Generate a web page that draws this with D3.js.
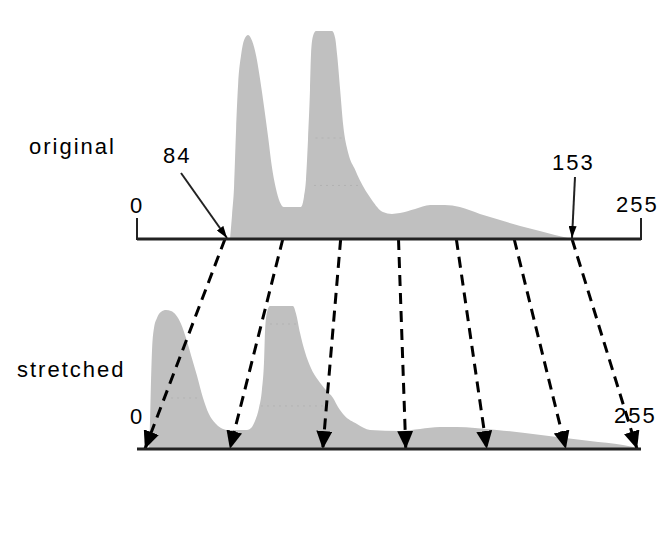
<!DOCTYPE html>
<html><head><meta charset="utf-8">
<script src="https://cdn.jsdelivr.net/npm/d3@7"></script>
<style>
html,body{margin:0;padding:0;background:#fff;}
svg{display:block;}
text{font-family:"Liberation Sans",Arial,sans-serif;font-size:22px;letter-spacing:2px;fill:#000;}
</style></head><body>
<svg id="chart" width="669" height="539"></svg>
<script>
// ---- data (intensity value, relative count) ----
const origValues = [85.0,85.4,85.8,86.2,86.6,87.2,87.8,88.6,89.4,90.2,91.0,91.8,92.6,93.3,94.1,94.9,95.7,99.1,99.7,100.1,100.5,100.9,101.1,101.5,102.1,105.3,105.9,106.3,106.9,107.5,108.5,109.9,110.8,113.2,115.4,117.2,118.8,121.8,124.8,127.7,130.7,134.7,138.7,142.7,146.6,149.6,152.2,153];
const origCounts = [0,11.5,24.9,52.2,73.7,88.0,95.2,97.6,94.7,87.6,76.1,62.7,48.3,34.9,24.4,17.7,15.3,15.3,20.1,28.2,47.4,71.3,88.0,97.1,99.5,99.5,96.2,88.0,71.3,54.5,41.1,33.0,28.2,18.7,12.9,12.0,12.4,14.4,16.3,16.3,15.3,12.0,9.1,6.2,3.8,1.9,0.5,0];
const stretchValues = [6.1,6.6,7.1,7.6,8.6,10.1,12.1,14.7,17.2,19.7,22.3,24.8,27.3,30.4,33.4,36.4,39.5,42.5,45.5,55.7,57.7,59.7,61.7,63.2,64.3,64.8,65.8,67.3,78.9,80.5,82.5,85.0,88.0,91.6,95.6,99.2,101.7,104.7,111.3,117.9,133.1,143.2,153.3,161.9,171.0,182.1,196.3,212.5,229.2,245.9,255];
const stretchCounts = [0,13.9,33.0,47.4,57.9,62.7,65.6,66.5,66.0,64.1,59.8,53.1,45.0,34.9,24.4,16.7,12.4,10.0,9.1,9.1,10.0,13.4,19.6,28.2,42.6,56.9,65.6,68.4,68.4,64.6,55.5,46.4,38.8,33.0,28.2,24.4,20.1,16.3,12.0,9.1,8.6,9.6,10.5,10.5,10.0,9.1,7.7,5.7,3.8,1.9,0];
const mapFrom = [84, 95.5, 107, 118.5, 130, 141.5, 153];
const mapTo   = [4, 47, 94, 136, 177, 217, 253];
const endTicks = [0, 255];
const markerValues = [84, 153];
const panelLabels = ["original", "stretched"];
const origGrid = [{count:48.3, from:102, to:108}, {count:25.6, from:101.7, to:111}];
const stretchGrid = [{count:59.8, from:67.3, to:80.4}, {count:24.4, from:14.2, to:31.9}, {count:20.6, from:59.7, to:94}];

// ---- scales ----
const xOrig = d3.scaleLinear().domain([0, 84, 153, 255]).range([137, 225, 572, 641]);
const xStr  = d3.scaleLinear().domain([0, 255]).range([137, 641]);
const yOrig = d3.scaleLinear().domain([0, 100]).range([239, 30]);
const yStr  = d3.scaleLinear().domain([0, 100]).range([449, 240]);

const svg = d3.select("#chart");
const defs = svg.append("defs");
defs.append("marker").attr("id","bigHead").attr("viewBox","0 -8 18 16")
  .attr("refX",18).attr("refY",0).attr("markerWidth",18).attr("markerHeight",16)
  .attr("markerUnits","userSpaceOnUse").attr("orient","auto")
  .append("path").attr("d","M0,-8L18,0L0,8Z").attr("fill","#000");
defs.append("marker").attr("id","smallHead").attr("viewBox","0 -4 12 8")
  .attr("refX",12).attr("refY",0).attr("markerWidth",12).attr("markerHeight",8)
  .attr("markerUnits","userSpaceOnUse").attr("orient","auto")
  .append("path").attr("d","M0,-4L12,0L0,4Z").attr("fill","#000");

const fillCol = "#c0c0c0";
function drawHist(vals, counts, x, y, grid, id){
  const pts = vals.map((v,i)=>[v, counts[i]]);
  const area = d3.area().x(d=>x(d[0])).y0(y(0)).y1(d=>y(d[1])).curve(d3.curveMonotoneX);
  defs.append("clipPath").attr("id",id).append("path").attr("d", area(pts));
  svg.append("path").attr("d", area(pts)).attr("fill", fillCol);
  svg.append("g").attr("clip-path",`url(#${id})`).selectAll("line").data(grid).join("line")
    .attr("x1", d=>x(d.from)).attr("x2", d=>x(d.to))
    .attr("y1", d=>y(d.count)).attr("y2", d=>y(d.count))
    .attr("stroke","#b2b2b2").attr("stroke-width",1).attr("stroke-dasharray","2,4");
}
drawHist(origValues, origCounts, xOrig, yOrig, origGrid, "clipO");
drawHist(stretchValues, stretchCounts, xStr, yStr, stretchGrid, "clipS");

// dashed mapping arrows
svg.selectAll("line.map").data(mapFrom).join("line").attr("class","map")
  .attr("x1", d=>xOrig(d)).attr("y1", yOrig(0))
  .attr("x2", (d,i)=>xStr(mapTo[i])).attr("y2", yStr(0))
  .attr("stroke","#000").attr("stroke-width",3).attr("stroke-dasharray","11,7")
  .attr("marker-end","url(#bigHead)");

// axes
svg.append("line").attr("x1", xOrig(0)).attr("x2", xOrig(255)).attr("y1", yOrig(0)).attr("y2", yOrig(0))
  .attr("stroke","#222").attr("stroke-width",3);
svg.selectAll("line.endtick").data(endTicks).join("line").attr("class","endtick")
  .attr("x1", d=>xOrig(d)).attr("x2", d=>xOrig(d)).attr("y1", yOrig(0)+1).attr("y2", yOrig(0)-21)
  .attr("stroke","#222").attr("stroke-width",2);
svg.append("line").attr("x1", xStr(0)).attr("x2", xStr(255)).attr("y1", yStr(0)).attr("y2", yStr(0))
  .attr("stroke","#222").attr("stroke-width",3);

// marker arrows for 84 and 153
const markerStart = [[181,173],[575,177]];
svg.selectAll("line.mk").data(markerValues).join("line").attr("class","mk")
  .attr("x1",(d,i)=>markerStart[i][0]).attr("y1",(d,i)=>markerStart[i][1])
  .attr("x2", d=>xOrig(d)+ (d===84?2:0)).attr("y2", yOrig(0)-1)
  .attr("stroke","#222").attr("stroke-width",2).attr("marker-end","url(#smallHead)");

// texts
svg.append("text").attr("x",29).attr("y",154).text(panelLabels[0]);
svg.append("text").attr("x",17).attr("y",377).text(panelLabels[1]);
svg.append("text").attr("x",163).attr("y",163).text(String(markerValues[0]));
svg.append("text").attr("x",552).attr("y",170).text(String(markerValues[1]));
svg.append("text").attr("x",130).attr("y",213).text(String(endTicks[0]));
svg.append("text").attr("x",616).attr("y",212).text(String(endTicks[1]));
svg.append("text").attr("x",130).attr("y",424).text(String(endTicks[0]));
svg.append("text").attr("x",614).attr("y",423).text(String(endTicks[1]));
</script>
</body></html>
